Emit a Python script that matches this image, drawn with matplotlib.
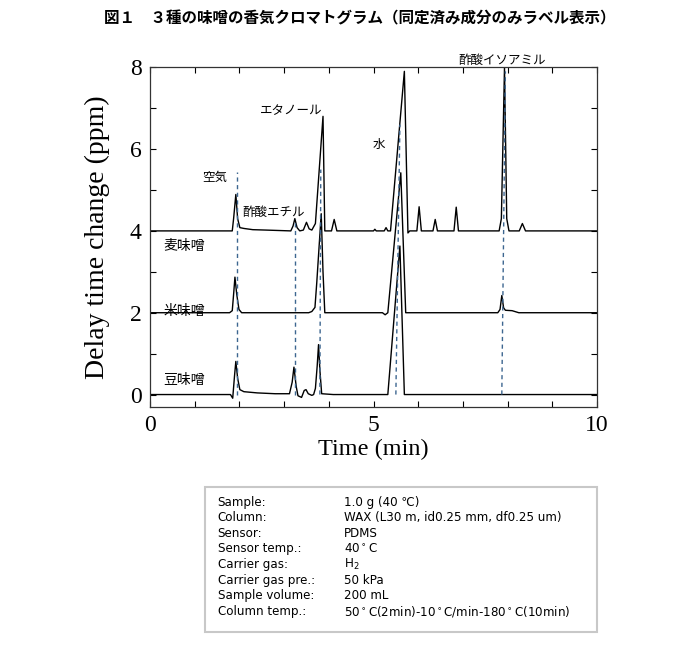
import matplotlib
matplotlib.use("Agg")
import matplotlib.pyplot as plt
from matplotlib.patches import Rectangle
from matplotlib.ticker import MultipleLocator

plt.rcParams['font.family'] = ['Noto Sans CJK JP', 'DejaVu Sans']

# chromatogram traces (time in min, signal in ppm above own baseline)
bean_t = [0.0, 1.80, 1.85, 1.89, 1.92, 1.96, 2.01, 2.10, 2.40, 2.80, 3.12, 3.18, 3.22, 3.27, 3.31,
          3.39, 3.45, 3.49, 3.54, 3.62, 3.66, 3.70, 3.74, 3.77, 3.80, 3.84, 4.10, 5.20, 5.32,
          5.59, 5.69, 5.75, 10.0]
bean_v = [0.0, 0.0, -0.09, 0.45, 0.81, 0.40, 0.12, 0.07, 0.04, 0.02, 0.02, 0.30, 0.67, 0.20, -0.03,
          -0.07, 0.10, 0.12, 0.02, -0.02, 0.0, 0.15, 0.70, 1.22, 0.60, 0.02, 0.0, 0.0, 0.0,
          3.63, 0.0, 0.0, 0.0]

rice_t = [0.0, 1.78, 1.84, 1.87, 1.90, 1.94, 1.99, 2.05, 3.55, 3.62, 3.69, 3.73, 3.83, 3.87, 3.91,
          5.20, 5.26, 5.32, 5.61, 5.72, 5.80, 7.78, 7.83, 7.87, 7.91, 7.95, 8.10, 8.25, 10.0]
rice_v = [0.0, 0.0, 0.05, 0.45, 0.87, 0.45, 0.08, 0.0, 0.0, 0.03, 0.13, 0.73, 2.42, 1.0, 0.0,
          0.0, -0.05, 0.0, 3.42, 0.0, 0.0, 0.0, 0.08, 0.42, 0.12, 0.06, 0.05, 0.0, 0.0]

barley_t = [0.0, 1.84, 1.87, 1.92, 1.96, 2.01, 2.10, 2.30, 2.60, 3.15, 3.20, 3.24, 3.29, 3.35,
            3.43, 3.50, 3.56, 3.62, 3.70, 3.87, 3.91, 3.95, 4.06, 4.12, 4.18, 4.30, 5.00, 5.03,
            5.06, 5.24, 5.28, 5.32, 5.38, 5.69, 5.77, 5.81, 5.97, 6.02, 6.07, 6.33, 6.38, 6.43,
            6.80, 6.85, 6.90, 7.81, 7.86, 7.93, 7.98, 8.03, 8.26, 8.33, 8.40, 10.0]
barley_v = [0.0, 0.0, 0.30, 0.89, 0.30, 0.08, 0.06, 0.03, 0.02, 0.0, 0.12, 0.30, 0.08, 0.0,
            0.02, 0.21, 0.05, 0.02, 0.18, 2.80, 0.0, 0.0, 0.0, 0.28, 0.0, 0.0, 0.0, 0.04,
            0.0, 0.0, 0.08, 0.0, 0.0, 3.90, -0.05, 0.0, 0.0, 0.59, 0.0, 0.0, 0.28, 0.0,
            0.0, 0.58, 0.0, 0.0, 0.30, 3.99, 0.30, 0.0, 0.0, 0.18, 0.0, 0.0]

sample_names = ['豆味噌', '米味噌', '麦味噌']
offsets = [0, 2, 4]
name_x = 0.77
name_y = [0.35, 2.03, 3.64]

# identified components
comp_names = ['空気', '酢酸エチル', 'エタノール', '水', '酢酸イソアミル']
comp_label_x = [1.44, 2.77, 3.15, 5.13, 7.87]
comp_label_y = [5.31, 4.44, 6.94, 6.12, 8.16]
dash_x_bottom = [1.95, 3.24, 3.80, 5.50, 7.87]
dash_x_top = [1.95, 3.24, 3.82, 5.59, 7.95]
dash_y_top = [5.45, 4.30, 5.50, 6.60, 7.90]

cond_keys = ['Sample:', 'Column:', 'Sensor:', 'Sensor temp.:', 'Carrier gas:',
             'Carrier gas pre.:', 'Sample volume:', 'Column temp.:']
cond_vals = ['1.0 g (40 ℃)', 'WAX (L30 m, id0.25 mm, df0.25 um)', 'PDMS', '40$^\\circ$C',
             'H$_2$', '50 kPa', '200 mL', '50$^\\circ$C(2min)-10$^\\circ$C/min-180$^\\circ$C(10min)']

fig = plt.figure(figsize=(7, 6.53), dpi=100)
ax = fig.add_axes([0.2143, 0.377, 0.6386, 0.520])

for t, v, off in zip([bean_t, rice_t, barley_t], [bean_v, rice_v, barley_v], offsets):
    ax.plot(t, [y + off for y in v], color='black', lw=1.0, zorder=2)

for xb, xt, yt in zip(dash_x_bottom, dash_x_top, dash_y_top):
    ax.plot([xb, xt], [0, yt], color='#3d6690', lw=1.0, ls=(0, (3, 2.5)), zorder=3)

for name, y in zip(sample_names, name_y):
    ax.text(name_x, y, name, fontsize=10, ha='center', va='center', zorder=4)

for name, x, y in zip(comp_names, comp_label_x, comp_label_y):
    ax.text(x, y, name, fontsize=9, ha='center', va='center', clip_on=False, zorder=4)

ax.set_xlim(0, 10)
ax.set_ylim(-0.3, 8)
ax.xaxis.set_major_locator(MultipleLocator(5))
ax.xaxis.set_minor_locator(MultipleLocator(1))
ax.yaxis.set_major_locator(MultipleLocator(2))
ax.yaxis.set_minor_locator(MultipleLocator(1))
ax.tick_params(which='both', direction='in', top=True, right=True, length=4, width=0.8)
ax.tick_params(which='major', labelsize=17, pad=6)
for lab in ax.get_xticklabels() + ax.get_yticklabels():
    lab.set_family('Liberation Serif')
for sp in ax.spines.values():
    sp.set_linewidth(0.9)
    sp.set_color('#333333')

ax.set_xlabel('Time (min)', fontsize=17.5, family='Liberation Serif', labelpad=2)
ax.set_ylabel('Delay time change (ppm)', fontsize=20, family='Liberation Serif', labelpad=14)

fig.text(0.514, 0.972, '図１　３種の味噌の香気クロマトグラム（同定済み成分のみラベル表示）',
         fontsize=11.2, fontweight='bold', ha='center', va='center')

# conditions box
fig.patches.append(Rectangle((0.293, 0.032), 0.560, 0.222, transform=fig.transFigure,
                             fill=False, edgecolor='#c8c8c8', lw=1.5))
for i, (k, v) in enumerate(zip(cond_keys, cond_vals)):
    y = 0.231 - i * 0.0239
    fig.text(0.311, y, k, fontsize=8.6, family='DejaVu Sans', ha='left', va='center')
    fig.text(0.491, y, v, fontsize=8.6, family='DejaVu Sans', ha='left', va='center')

fig.savefig('out.png', dpi=100)
